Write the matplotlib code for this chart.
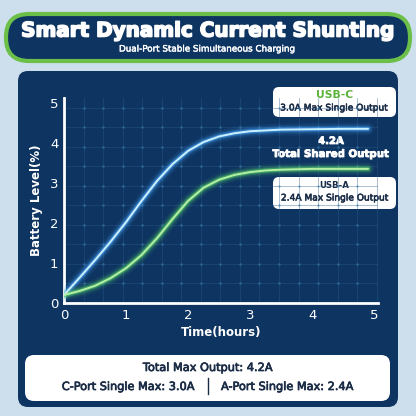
import numpy as np
import matplotlib.pyplot as plt
import matplotlib.patheffects as pe
from matplotlib.patches import FancyBboxPatch
from matplotlib.ticker import MultipleLocator

# data
hours_c = [0, 0.25, 0.5, 0.75, 1.0, 1.25, 1.5, 1.75, 2.0, 2.25, 2.5, 2.75, 3.0, 3.25, 3.5, 4.0, 4.5, 4.9]
usb_c = [0.2, 0.63, 1.07, 1.53, 2.02, 2.55, 3.05, 3.47, 3.8, 4.02, 4.16, 4.24, 4.29, 4.31, 4.33, 4.34, 4.35, 4.35]
hours_a = [0, 0.25, 0.5, 0.75, 1.0, 1.25, 1.5, 1.75, 2.0, 2.25, 2.5, 2.75, 3.0, 3.25, 3.5, 4.0, 4.5, 4.9]
usb_a = [0.2, 0.3, 0.43, 0.62, 0.87, 1.2, 1.62, 2.1, 2.55, 2.88, 3.08, 3.2, 3.27, 3.31, 3.33, 3.35, 3.35, 3.35]

x_ticks = [0, 1, 2, 3, 4, 5]
y_ticks = [0, 1, 2, 3, 4, 5]

title = "Smart Dynamic Current Shunting"
subtitle = "Dual-Port Stable Simultaneous Charging"
c_name, c_desc = "USB-C", "3.0A Max Single Output"
a_name, a_desc = "USB-A", "2.4A Max Single Output"
total_val, total_desc = "4.2A", "Total Shared Output"
footer_top = "Total Max Output: 4.2A"
footer_left = "C-Port Single Max: 3.0A"
footer_right = "A-Port Single Max: 2.4A"

BG = "#cddfed"
NAVY = "#0e3461"
GREEN = "#6cc04a"
TXT_NAVY = "#1a2b45"

fig = plt.figure(figsize=(4.16, 4.16), dpi=100)
fig.patch.set_facecolor(BG)
renderer = fig.canvas.get_renderer()

# pixel-space layer for the decorations
bg = fig.add_axes([0, 0, 1, 1])
bg.set_xlim(0, 416)
bg.set_ylim(416, 0)
bg.axis("off")


def label(x, y, s, width, color, weight="normal", stroke=0.0, z=6):
    t = bg.text(x, y, s, color=color, fontsize=8, fontweight=weight,
                ha="center", va="center", zorder=z)
    w = t.get_window_extent(renderer).width
    t.set_fontsize(8 * width / w)
    if stroke:
        t.set_path_effects([pe.withStroke(linewidth=stroke, foreground=color)])
    return t


bg.add_patch(FancyBboxPatch((6, 14), 404, 47, boxstyle="round,pad=0,rounding_size=23",
                            fc=NAVY, ec=GREEN, lw=3))
label(208, 31, title, 372, "white", "bold", stroke=1.2)
label(207, 49, subtitle, 177, "white", stroke=0.3)

bg.add_patch(FancyBboxPatch((18, 71), 380, 336, boxstyle="round,pad=0,rounding_size=10",
                            fc=NAVY, ec="none"))

# info boxes
bg.add_patch(FancyBboxPatch((273, 87), 123, 30, boxstyle="round,pad=0,rounding_size=6",
                            fc="white", ec="none", zorder=5))
label(334.5, 95.5, c_name, 37, "#5cb33a", "bold")
label(334.5, 108, c_desc, 108, TXT_NAVY, stroke=0.4)

label(331, 141, total_val, 26, "white", "bold", stroke=0.6)
label(331, 154, total_desc, 116, "white", "bold", stroke=0.6)

bg.add_patch(FancyBboxPatch((273, 177), 123, 32, boxstyle="round,pad=0,rounding_size=6",
                            fc="white", ec="none", zorder=5))
label(334.5, 185.5, a_name, 30, TXT_NAVY, "bold")
label(334.5, 198, a_desc, 108, TXT_NAVY, stroke=0.4)

# footer box
bg.add_patch(FancyBboxPatch((25, 355), 365, 46, boxstyle="round,pad=0,rounding_size=9",
                            fc="white", ec="none"))
label(208, 368, footer_top, 130, TXT_NAVY, stroke=0.5)
label(128, 387, footer_left, 133, TXT_NAVY, stroke=0.5)
label(287, 387, footer_right, 133, TXT_NAVY, stroke=0.5)
bg.plot([208, 208], [378, 394], color=TXT_NAVY, lw=1)

# chart
ax = fig.add_axes([64 / 416, (416 - 303) / 416, 314 / 416, 205 / 416])
ax.set_facecolor("none")
ax.set_xlim(0, 5.06)
ax.set_ylim(0, 5.12)

ax.xaxis.set_minor_locator(MultipleLocator(0.315))
ax.yaxis.set_minor_locator(MultipleLocator(0.4875))
ax.grid(which="minor", color="#2a5c8c", lw=0.6, alpha=0.45)
ax.grid(which="major", visible=False)
gx = np.arange(0.315, 5.0, 0.315)
gy = np.arange(0.4875, 5.0, 0.4875)
GX, GY = np.meshgrid(gx, gy)
ax.scatter(GX.ravel(), GY.ravel(), s=3, color="#4a9ad0", alpha=0.6, lw=0, zorder=1)

for hours, vals, glow, core in [(hours_c, usb_c, "#4aa8ff", "#c9f0ff"),
                                (hours_a, usb_a, "#58d46a", "#b4f0a4")]:
    for lw, a in [(9, 0.07), (6.5, 0.12), (4.5, 0.22), (3, 0.45)]:
        ax.plot(hours, vals, color=glow, lw=lw, alpha=a, solid_capstyle="round",
                solid_joinstyle="round", zorder=3)
    ax.plot(hours, vals, color=core, lw=1.4, solid_capstyle="round",
            solid_joinstyle="round", zorder=4)

for side in ["top", "right"]:
    ax.spines[side].set_visible(False)
for side in ["left", "bottom"]:
    ax.spines[side].set_color("white")
    ax.spines[side].set_linewidth(2)

ax.set_xticks(x_ticks)
ax.set_yticks(y_ticks)
ax.tick_params(which="both", length=0, colors="white", labelsize=9.5)
ax.tick_params(axis="x", pad=4)
ax.tick_params(axis="y", pad=4)
ax.set_xlabel("Time(hours)", color="white", fontsize=8.5, fontweight="bold", labelpad=3)
ax.set_ylabel("Battery Level(%)", color="white", fontsize=8.5, fontweight="bold", labelpad=5)

fig.savefig("out.png", dpi=100, facecolor=BG)
